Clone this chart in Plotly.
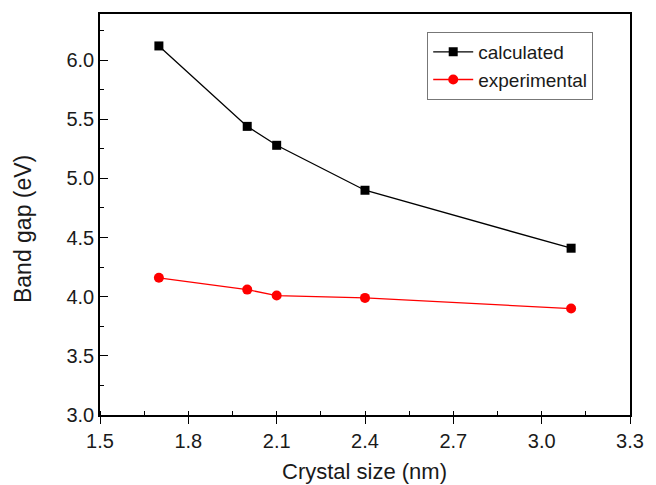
import plotly.graph_objects as go

crystal_size = [1.7, 2.0, 2.1, 2.4, 3.1]
calculated = [6.12, 5.44, 5.28, 4.90, 4.41]
experimental = [4.16, 4.06, 4.01, 3.99, 3.90]
x_ticks = [1.5, 1.8, 2.1, 2.4, 2.7, 3.0, 3.3]
y_ticks = [3.0, 3.5, 4.0, 4.5, 5.0, 5.5, 6.0]

font = "Liberation Sans, Arial, sans-serif"
txt = "#1a1a1a"

fig = go.Figure()
fig.add_trace(go.Scatter(x=crystal_size, y=calculated, name="calculated",
                         mode="lines+markers",
                         line=dict(color="black", width=1.3),
                         marker=dict(symbol="square", size=9, color="black")))
fig.add_trace(go.Scatter(x=crystal_size, y=experimental, name="experimental",
                         mode="lines+markers",
                         line=dict(color="red", width=1.3),
                         marker=dict(symbol="circle", size=10, color="red")))

axis_common = dict(showline=True, linecolor="black", linewidth=1.6, mirror=True,
                   tickwidth=1.3, tickcolor="black",
                   showgrid=False, zeroline=False,
                   tickfont=dict(family=font, size=20, color=txt))

fig.update_xaxes(range=[1.5, 3.3], tickvals=x_ticks,
                 ticktext=[f"{v:.1f}" for v in x_ticks],
                 ticks="outside", ticklen=7,
                 minor=dict(ticks="inside", ticklen=4, tickcolor="black", tickwidth=1.2,
                            dtick=0.15, tick0=1.5, showgrid=False),
                 **axis_common)
fig.update_yaxes(range=[3.0, 6.39], tickvals=y_ticks,
                 ticktext=[f"{v:.1f}" for v in y_ticks],
                 ticks="inside", ticklen=8,
                 minor=dict(ticks="inside", ticklen=4, tickcolor="black", tickwidth=1.2,
                            dtick=0.25, tick0=3.0, showgrid=False),
                 **axis_common)

fig.add_annotation(text="Crystal size (nm)", xref="paper", yref="paper",
                   x=(370 - 100) / 541, y=-(472 - 415) / 402,
                   xanchor="center", yanchor="middle", showarrow=False,
                   font=dict(family=font, size=22, color=txt))
fig.add_annotation(text="Band gap (eV)", xref="paper", yref="paper",
                   x=-(100 - 22) / 541, y=(415 - 229) / 402, textangle=-90,
                   xanchor="center", yanchor="middle", showarrow=False,
                   font=dict(family=font, size=23, color=txt))

fig.update_layout(
    width=656, height=485,
    margin=dict(l=100, r=15, t=13, b=70),
    plot_bgcolor="white", paper_bgcolor="white",
    legend=dict(x=(434 - 100) / 541, y=(415 - 31) / 402, xanchor="left", yanchor="top",
                bordercolor="#777", borderwidth=1, bgcolor="white",
                font=dict(family=font, size=19, color=txt),
                tracegroupgap=0, itemwidth=40),
    showlegend=True,
)

fig.write_html("out.html")
